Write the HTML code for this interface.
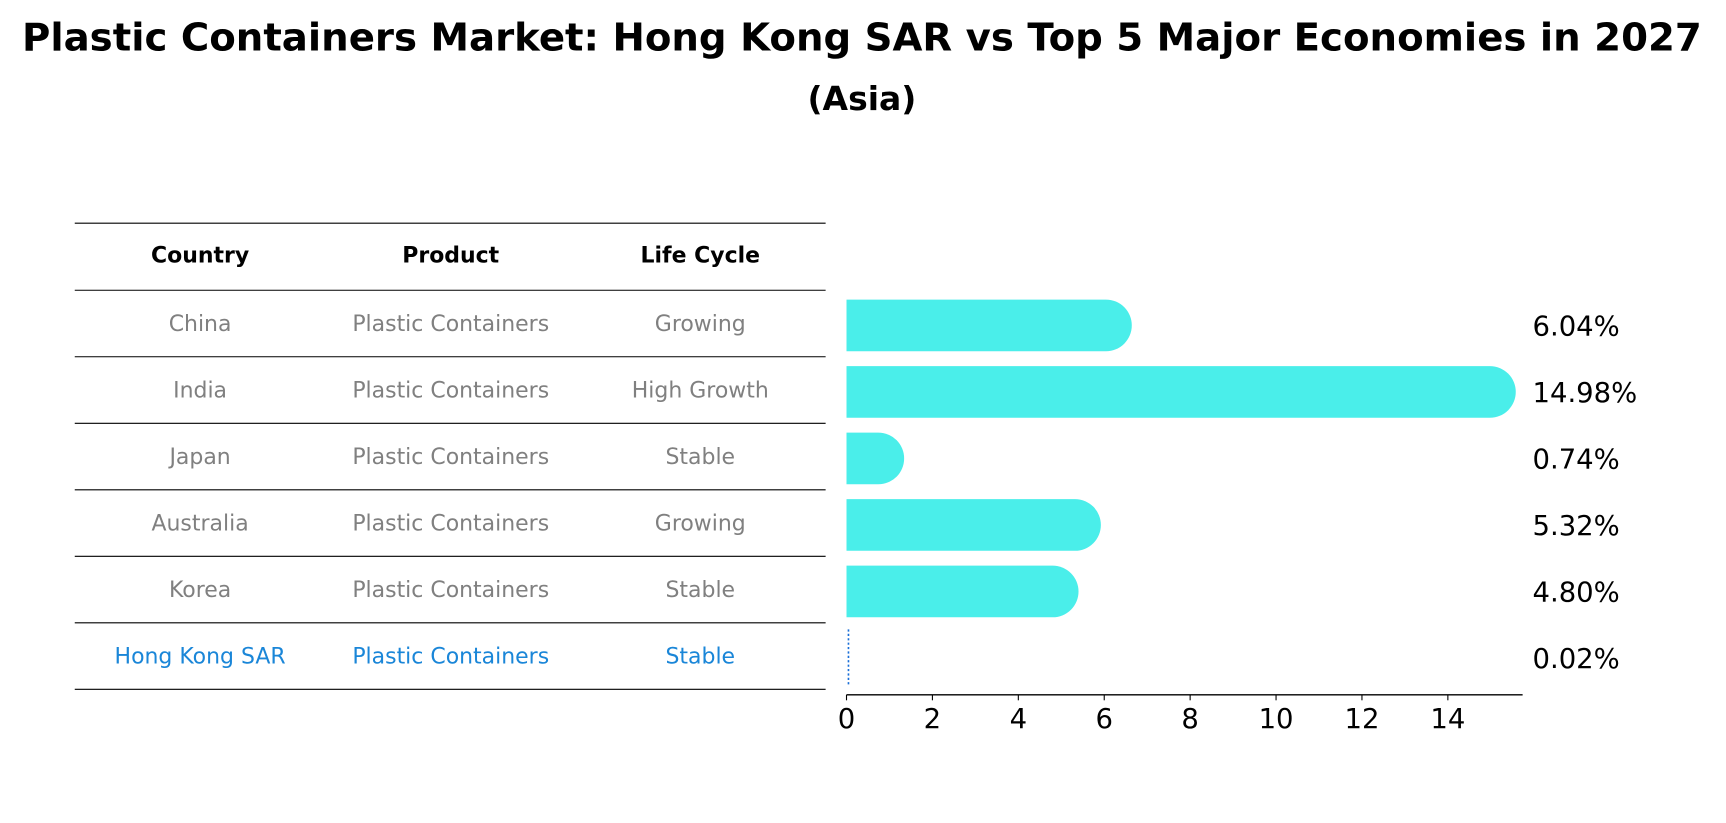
<!DOCTYPE html>
<html><head><meta charset="utf-8"><style>
html,body{margin:0;padding:0;background:#fff;}
svg{display:block;font-family:"DejaVu Sans","Liberation Sans",sans-serif;}
</style></head><body>
<svg id="chart" width="1726" height="823" viewBox="0 0 1570 748.6" xmlns="http://www.w3.org/2000/svg">
<text x="784" y="46" text-anchor="middle" font-size="35" font-weight="bold" textLength="1528" lengthAdjust="spacingAndGlyphs">Plastic Containers Market: Hong Kong SAR vs Top 5 Major Economies in 2027</text>
<text x="784" y="100" text-anchor="middle" font-size="30" font-weight="bold">(Asia)</text>
<g id="table"></g>
<g id="bars"></g>
</svg>
<script>
const countries=["China","India","Japan","Australia","Korea","Hong Kong SAR"];
const products=["Plastic Containers","Plastic Containers","Plastic Containers","Plastic Containers","Plastic Containers","Plastic Containers"];
const lifeCycles=["Growing","High Growth","Stable","Growing","Stable","Stable"];
const values=[6.04,14.98,0.74,5.32,4.80,0.02];
const ticks=[0,2,4,6,8,10,12,14];
const NS="http://www.w3.org/2000/svg";
function mk(t,a,p){const e=document.createElementNS(NS,t);for(const k in a)e.setAttribute(k,a[k]);p.appendChild(e);return e;}
const tbl=document.getElementById('table'), bars=document.getElementById('bars');
const rowY=i=>264+i*60.5;
const colX=[182,410,637];
for(let i=0;i<8;i++){const y=i===0?203:rowY(i-1);
const l=mk('line',{x1:68,x2:751,y1:y,y2:y,stroke:'#000','stroke-width':1},tbl);

}
["Country","Product","Life Cycle"].forEach((h,j)=>{const t=mk('text',{x:colX[j],y:239,'text-anchor':'middle','font-size':20,'font-weight':'bold'},tbl);t.textContent=h;

});
countries.forEach((c,i)=>{const hk=i===countries.length-1;const col=hk?'#1a86d8':'#808080';
[c,products[i],lifeCycles[i]].forEach((v,j)=>{const t=mk('text',{x:colX[j],y:rowY(i)+37,'text-anchor':'middle','font-size':20,fill:col},tbl);t.textContent=v;

});});
const x0=770,ppu=(1317-770)/14;
const xs=v=>x0+v*ppu;
const bh=47;
values.forEach((v,i)=>{const cy=rowY(i)+32;
if(countries[i]==="Hong Kong SAR"){
const l=mk('line',{x1:xs(v)+1,x2:xs(v)+1,y1:cy-26,y2:cy+24,stroke:'#1a6fd8','stroke-width':1.5,'stroke-dasharray':'2,2'},bars);


}else{
const w=xs(v)-x0;
const p=mk('path',{d:`M${x0},${cy-bh/2} H${x0+w} A${bh/2},${bh/2} 0 0 1 ${x0+w},${cy+bh/2} H${x0} Z`,fill:'#4aeeea'},bars);

}
const t=mk('text',{x:1394,y:cy+9,'font-size':25},bars);t.textContent=v.toFixed(2)+'%';

});
const ax=mk('line',{x1:x0,x2:1385,y1:632,y2:632,stroke:'#000','stroke-width':1.2},bars);


ticks.forEach(v=>{const l=mk('line',{x1:xs(v),x2:xs(v),y1:632,y2:637,stroke:'#000'},bars);


const t=mk('text',{x:xs(v),y:662,'text-anchor':'middle','font-size':25},bars);t.textContent=v;

});
</script>
</body></html>
